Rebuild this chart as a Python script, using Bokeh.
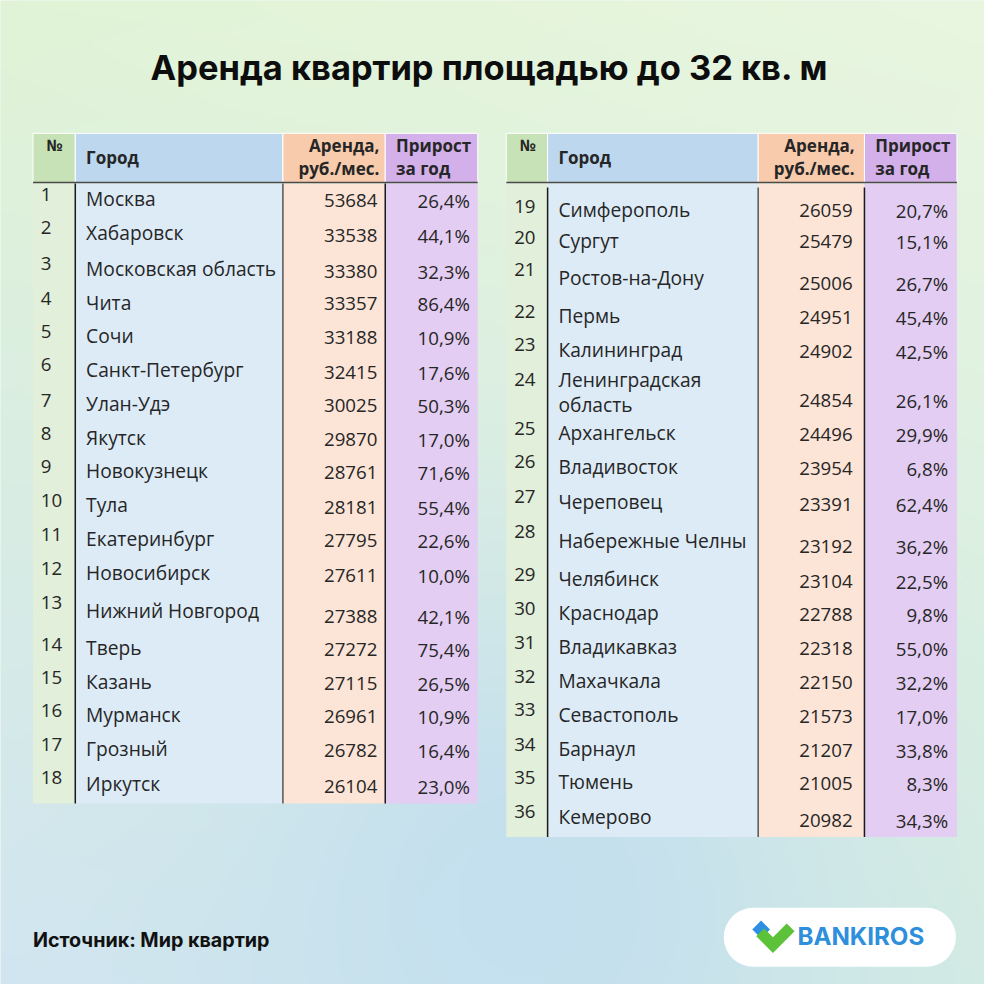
import numpy as np
from bokeh.plotting import figure
from bokeh.models import Range1d
from bokeh.core.properties import value
from bokeh.embed import file_html
from bokeh.resources import INLINE

# ---------------- data ----------------
title = "Аренда квартир площадью до 32 кв. м"
source_text = "Источник: Мир квартир"
brand = "BANKIROS"
col_headers = ["№", "Город", ["Аренда,", "руб./мес."], ["Прирост", "за год"]]

ranks = list(range(1, 37))
cities = ["Москва", "Хабаровск", "Московская область", "Чита", "Сочи",
          "Санкт-Петербург", "Улан-Удэ", "Якутск", "Новокузнецк", "Тула",
          "Екатеринбург", "Новосибирск", "Нижний Новгород", "Тверь", "Казань",
          "Мурманск", "Грозный", "Иркутск", "Симферополь", "Сургут",
          "Ростов-на-Дону", "Пермь", "Калининград", "Ленинградская область",
          "Архангельск", "Владивосток", "Череповец", "Набережные Челны",
          "Челябинск", "Краснодар", "Владикавказ", "Махачкала", "Севастополь",
          "Барнаул", "Тюмень", "Кемерово"]
rents = [53684, 33538, 33380, 33357, 33188, 32415, 30025, 29870, 28761, 28181,
         27795, 27611, 27388, 27272, 27115, 26961, 26782, 26104, 26059, 25479,
         25006, 24951, 24902, 24854, 24496, 23954, 23391, 23192, 23104, 22788,
         22318, 22150, 21573, 21207, 21005, 20982]
growth = [26.4, 44.1, 32.3, 86.4, 10.9, 17.6, 50.3, 17.0, 71.6, 55.4, 22.6, 10.0,
          42.1, 75.4, 26.5, 10.9, 16.4, 23.0, 20.7, 15.1, 26.7, 45.4, 42.5, 26.1,
          29.9, 6.8, 62.4, 36.2, 22.5, 9.8, 55.0, 32.2, 17.0, 33.8, 8.3, 34.3]

# ---------------- layout ----------------
left_heights = [34, 36, 36, 33, 34, 36, 34, 34, 34, 35, 34, 35, 42, 34, 34, 34, 34, 37]
right_heights = [32, 32, 43, 34, 35, 50, 34, 35, 36, 43, 35, 34, 35, 34, 35, 34, 34, 37]
wrapped = {"Ленинградская область"}

tables = [
    dict(cols=[33, 76, 287, 391, 485], first_row=186, body_top=186, line_top=186,
         heights=left_heights, idx=range(0, 18), vpad=8, ppad=8),
    dict(cols=[514, 556, 770, 878, 972], first_row=198, body_top=186, line_top=190,
         heights=right_heights, idx=range(18, 36), vpad=12, ppad=9),
]
HEAD_TOP, HEAD_BOT = 135, 185
head_colors = ["#c7e2b6", "#bdd7ee", "#f8cbad", "#d3b0ea"]
body_colors = ["#e2efda", "#ddebf7", "#fce4d6", "#e3cdf2"]
TXT = "#262626"
FONT = value("Open Sans")
SIZE = 984
S = SIZE / 1000.0


def fs(px):
    return f"{px * S:.2f}px"


def Y(y):
    return 1000 - y


p = figure(width=SIZE, height=SIZE, x_range=Range1d(0, 1000), y_range=Range1d(0, 1000),
           output_backend="svg", toolbar_location=None, min_border=0)
p.axis.visible = False
p.grid.visible = False
p.outline_line_color = None
p.background_fill_color = "#e0f0e4"
p.border_fill_color = "#e0f0e4"

# ---------------- background gradient ----------------
N = 200
xs = (np.arange(N) + 0.5) * 1000 / N
ys = 1000 - (np.arange(N) + 0.5) * 1000 / N  # row 0 = bottom
X, YY = np.meshgrid(xs, ys)
u = X / 1000.0
v = YY / 1000.0
TL = np.array([225, 244, 214.0]); TR = np.array([233, 246, 224.0])
BL = np.array([210, 230, 241.0]); BR = np.array([212, 236, 226.0])
col = ((1 - u)[..., None] * (1 - v)[..., None] * TL + u[..., None] * (1 - v)[..., None] * TR
       + (1 - u)[..., None] * v[..., None] * BL + u[..., None] * v[..., None] * BR)
blob = np.exp(-(((X - 540) ** 2 + (YY - 900) ** 2) / (2 * 230.0 ** 2)))[..., None]
col = col * (1 - 0.8 * blob) + np.array([192, 221, 240.0]) * 0.8 * blob
img = np.empty((N, N), dtype=np.uint32)
view = img.view(dtype=np.uint8).reshape((N, N, 4))
view[..., 0] = col[..., 0].astype(np.uint8)
view[..., 1] = col[..., 1].astype(np.uint8)
view[..., 2] = col[..., 2].astype(np.uint8)
view[..., 3] = 255
p.image_rgba(image=[img], x=0, y=0, dw=1000, dh=1000)

# ---------------- title ----------------
p.text(x=[497], y=[Y(68)], text=[title], text_font=value("Inter"), text_font_style="bold",
       text_font_size=fs(35), text_align="center", text_baseline="middle", text_color="#0d0d0d")

# ---------------- tables ----------------
for t in tables:
    c = t["cols"]
    tops = [t["first_row"]]
    for h in t["heights"]:
        tops.append(tops[-1] + h)
    body_bottom = tops[-1]
    p.quad(left=c[:4], right=c[1:], top=[Y(HEAD_TOP)] * 4, bottom=[Y(HEAD_BOT)] * 4,
           fill_color=head_colors, line_color="white", line_width=1)
    p.quad(left=c[:4], right=c[1:], top=[Y(t["body_top"])] * 4, bottom=[Y(body_bottom)] * 4,
           fill_color=body_colors, line_color=None)
    p.segment(x0=[c[0]], x1=[c[4]], y0=[Y(HEAD_BOT)], y1=[Y(HEAD_BOT)], line_color="#4a4a4a", line_width=1.5)
    p.segment(x0=c[1:4], x1=c[1:4], y0=[Y(t["line_top"])] * 3, y1=[Y(body_bottom)] * 3,
              line_color=["#1a1a1a", "#555555", "#1a1a1a"], line_width=1.5)

    p.text(x=[c[0] + 22], y=[Y(147)], text=[col_headers[0]], text_font=FONT, text_font_style="bold",
           text_font_size=fs(16), text_align="center", text_baseline="middle", text_color=TXT)
    p.text(x=[c[1] + 11], y=[Y(160)], text=[col_headers[1]], text_font=FONT, text_font_style="bold",
           text_font_size=fs(17.3), text_align="left", text_baseline="middle", text_color=TXT)
    p.text(x=[c[3] - t["vpad"] + 2] * 2, y=[Y(147), Y(171)], text=col_headers[2], text_font=FONT,
           text_font_style="bold", text_font_size=fs(17.3), text_align="right", text_baseline="middle",
           text_color=TXT)
    p.text(x=[c[3] + 11] * 2, y=[Y(147), Y(171)], text=col_headers[3], text_font=FONT,
           text_font_style="bold", text_font_size=fs(17.3), text_align="left", text_baseline="middle",
           text_color=TXT)

    idx = list(t["idx"])
    rtop = tops[:-1]
    rbot = tops[1:]
    num_y = [Y(a + 11) for a in rtop]
    mid_y = [Y((a + b) / 2 - 2) for a, b in zip(rtop, rbot)]
    val_y = [Y(b - 17) for b in rbot]

    p.text(x=[c[0] + 8] * len(idx), y=num_y, text=[str(ranks[i]) for i in idx], text_font=FONT,
           text_font_size=fs(19), text_align="left", text_baseline="middle", text_color=TXT)

    single_x, single_y, single_t = [], [], []
    for k, i in enumerate(idx):
        if cities[i] in wrapped:
            a, b = cities[i].split(" ", 1)
            top, bot = rtop[k], rbot[k]
            single_x += [c[1] + 11, c[1] + 11]
            single_y += [Y(top + 11), Y(bot - 13)]
            single_t += [a, b]
        else:
            single_x.append(c[1] + 11)
            single_y.append(mid_y[k])
            single_t.append(cities[i])
    p.text(x=single_x, y=single_y, text=single_t, text_font=FONT, text_font_size=fs(19.5),
           text_align="left", text_baseline="middle", text_color=TXT)

    p.text(x=[c[3] - t["vpad"]] * len(idx), y=val_y, text=[str(rents[i]) for i in idx],
           text_font=FONT, text_font_size=fs(19), text_align="right", text_baseline="middle",
           text_color=TXT)
    p.text(x=[c[4] - t["ppad"]] * len(idx), y=val_y,
           text=[f"{growth[i]:.1f}".replace(".", ",") + "%" for i in idx],
           text_font=FONT, text_font_size=fs(19), text_align="right", text_baseline="middle",
           text_color=TXT)

# ---------------- source ----------------
p.text(x=[33], y=[Y(955)], text=[source_text], text_font=value("Inter"), text_font_size=fs(20),
       text_font_style="bold", text_align="left", text_baseline="middle", text_color="#111111")

# ---------------- logo ----------------
p.quad(left=[735], right=[971], top=[Y(922)], bottom=[Y(982)], fill_color="white",
       line_color=None, border_radius=30)
p.patch(x=[764, 773, 782, 773], y=[Y(944), Y(935), Y(944), Y(953)], fill_color="#2d8fe2", line_color=None)
p.patch(x=[768, 776, 785, 799, 807, 785], y=[Y(951), Y(943), Y(952), Y(938), Y(946), Y(968)],
        fill_color="#5cc23a", line_color=None)
p.text(x=[810], y=[Y(951)], text=[brand], text_font=value("Inter"), text_font_style="bold",
       text_font_size=fs(24.5), text_align="left", text_baseline="middle", text_color="#2e8fdc")

open("out.html", "w").write(file_html(p, INLINE))
